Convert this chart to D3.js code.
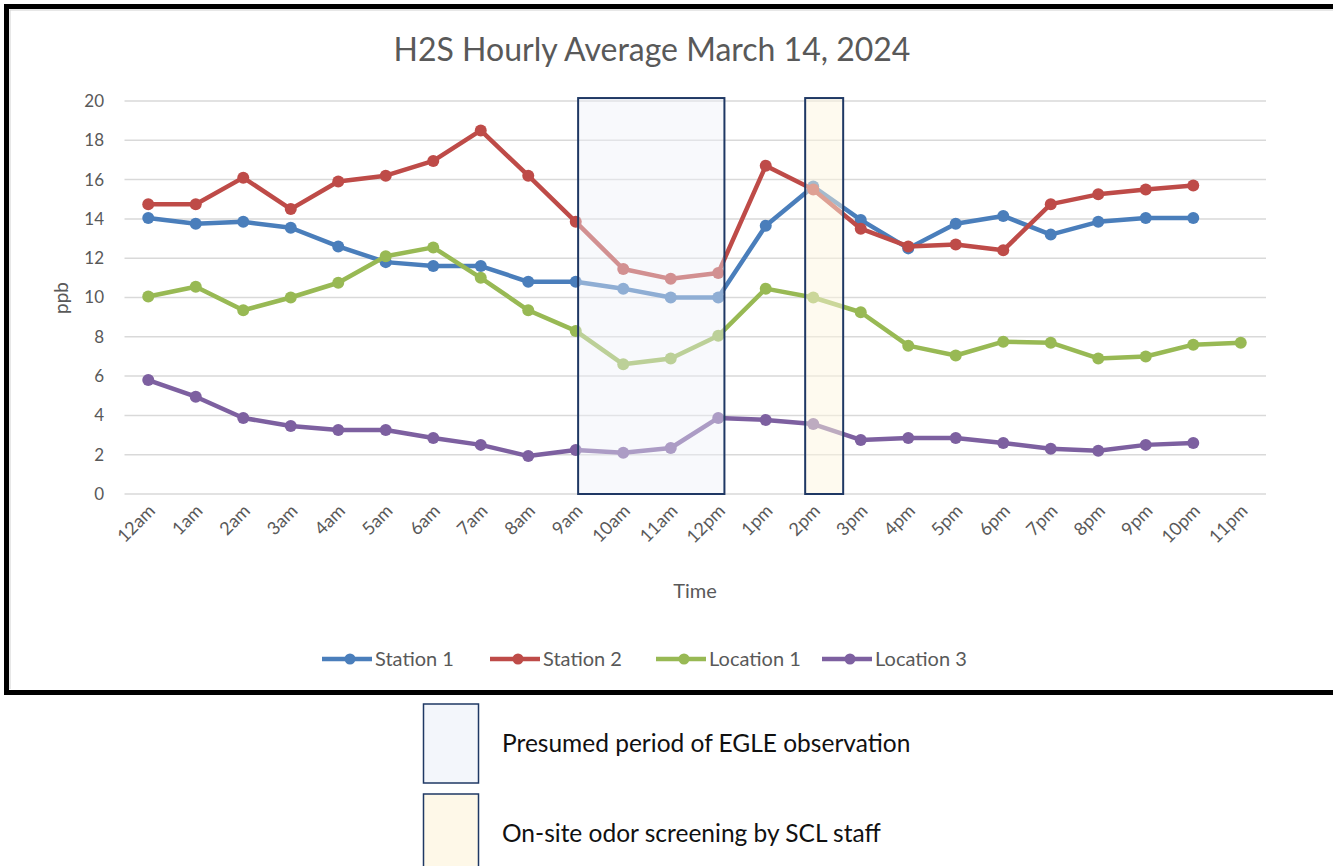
<!DOCTYPE html>
<html><head><meta charset="utf-8">
<script src="https://cdn.jsdelivr.net/npm/d3@7"></script>
<style>body{margin:0;background:#fff;} svg{display:block;}</style>
</head><body>
<svg id="c" width="1333" height="866"></svg>
<script>
const hours = ["12am","1am","2am","3am","4am","5am","6am","7am","8am","9am","10am","11am","12pm","1pm","2pm","3pm","4pm","5pm","6pm","7pm","8pm","9pm","10pm","11pm"];
const station1 = [14.05,13.75,13.85,13.55,12.6,11.8,11.6,11.6,10.8,10.8,10.45,10.0,10.0,13.65,15.65,13.95,12.5,13.75,14.15,13.2,13.85,14.05,14.05,null];
const station2 = [14.75,14.75,16.1,14.5,15.9,16.2,16.95,18.5,16.2,13.85,11.45,10.95,11.25,16.7,15.5,13.5,12.6,12.7,12.4,14.75,15.25,15.5,15.7,null];
const location1 = [10.05,10.55,9.35,10.0,10.75,12.1,12.55,11.0,9.35,8.3,6.6,6.9,8.05,10.45,10.0,9.25,7.55,7.05,7.75,7.7,6.9,7.0,7.6,7.7];
const location3 = [5.8,4.95,3.87,3.46,3.26,3.26,2.85,2.5,1.93,2.24,2.1,2.34,3.87,3.77,3.56,2.75,2.85,2.85,2.6,2.3,2.2,2.5,2.6,null];
const seriesNames = ["Station 1","Station 2","Location 1","Location 3"];
const seriesColors = ["#4a7ebb","#be4b48","#98b954","#7d60a0"];
const yTicks = [0,2,4,6,8,10,12,14,16,18,20];
// highlighted periods, in hour units
const eglePeriod = [9.05, 12.13];
const sclPeriod = [13.83, 14.63];
const legendNotes = ["Presumed period of EGLE observation","On-site odor screening by SCL staff"];

const svg = d3.select("#c");
const font = "Lato, 'Open Sans', sans-serif";
const grey = "#595959";

// frame
svg.append("path").attr("d","M1345,6.5 H6.5 V692.5 H1345")
  .attr("fill","none").attr("stroke","#000").attr("stroke-width",5);
svg.append("path").attr("d","M1345,10 H10 V689").attr("fill","none").attr("stroke","#d0d0d0").attr("stroke-width",1);

const x = d3.scaleBand().domain(hours).range([124.5,1264.5]);
const xc = h => x(h) + x.bandwidth()/2;
const xh = d3.scaleLinear().domain([0,23]).range([xc(hours[0]), xc(hours[23])]);
const y = d3.scaleLinear().domain([0,20]).range([494,101]);

// title
svg.append("text").attr("x",652).attr("y",61).attr("text-anchor","middle")
  .attr("font-family",font).attr("font-size",32).attr("fill",grey)
  .text("H2S Hourly Average March 14, 2024");

// gridlines
svg.append("g").selectAll("line").data(yTicks).join("line")
  .attr("x1",124.5).attr("x2",1266).attr("y1",d=>y(d)).attr("y2",d=>y(d))
  .attr("stroke","#d9d9d9").attr("stroke-width",1.5);

// y axis labels
const yAxis = d3.axisLeft(y).tickValues(yTicks).tickSize(0).tickPadding(0);
const gy = svg.append("g").attr("transform","translate(104,0)").call(yAxis);
gy.select(".domain").remove();
gy.selectAll("text").attr("font-family",font).attr("font-size",17).attr("fill",grey);

svg.append("text").attr("transform","translate(68,298) rotate(-90)").attr("text-anchor","middle")
  .attr("font-family",font).attr("font-size",19).attr("fill",grey).text("ppb");

// x axis labels
const xAxis = d3.axisBottom(x).tickSize(0).tickPadding(0);
const gx = svg.append("g").attr("transform","translate(0,494)").call(xAxis);
gx.select(".domain").remove();
gx.selectAll("text").attr("font-family",font).attr("font-size",18).attr("fill",grey)
  .attr("text-anchor","end").attr("dy",null).attr("y",0)
  .attr("transform","translate(8,18) rotate(-45)");

svg.append("text").attr("x",695).attr("y",598).attr("text-anchor","middle")
  .attr("font-family",font).attr("font-size",20).attr("fill",grey).text("Time");

// series
const allSeries = [station1,station2,location1,location3];
const line = d3.line().defined(d=>d.v!=null).x(d=>xc(d.h)).y(d=>y(d.v));
allSeries.forEach((s,i)=>{
  const pts = s.map((v,j)=>({h:hours[j],v}));
  svg.append("path").datum(pts).attr("d",line).attr("fill","none")
    .attr("stroke",seriesColors[i]).attr("stroke-width",4.5).attr("stroke-linejoin","round");
  svg.append("g").selectAll("circle").data(pts.filter(d=>d.v!=null)).join("circle")
    .attr("cx",d=>xc(d.h)).attr("cy",d=>y(d.v)).attr("r",6).attr("fill",seriesColors[i]);
});

// highlight rectangles (overlay)
svg.append("rect").attr("x",xh(eglePeriod[0])).attr("y",y(20.15))
  .attr("width",xh(eglePeriod[1])-xh(eglePeriod[0])).attr("height",y(0)-y(20.15))
  .attr("fill","#eef1f8").attr("fill-opacity",0.42).attr("stroke","#1f3864").attr("stroke-width",2);
svg.append("rect").attr("x",xh(sclPeriod[0])).attr("y",y(20.15))
  .attr("width",xh(sclPeriod[1])-xh(sclPeriod[0])).attr("height",y(0)-y(20.15))
  .attr("fill","#fdf5e0").attr("fill-opacity",0.5).attr("stroke","#1f3864").attr("stroke-width",2);

// legend
const legX = [322,490,656,822];
seriesNames.forEach((n,i)=>{
  const g = svg.append("g").attr("transform",`translate(${legX[i]},659)`);
  g.append("line").attr("x1",0).attr("x2",50).attr("stroke",seriesColors[i]).attr("stroke-width",4.5);
  g.append("circle").attr("cx",28).attr("r",5.5).attr("fill",seriesColors[i]);
  g.append("text").attr("x",53).attr("y",7).attr("font-family",font).attr("font-size",20).attr("fill",grey).text(n);
});

// bottom notes
const noteFill = ["#f3f6fb","#fef8e8"];
const noteY = [704,794];
legendNotes.forEach((t,i)=>{
  svg.append("rect").attr("x",423.5).attr("y",noteY[i]).attr("width",55).attr("height",i==0?79:80)
    .attr("fill",noteFill[i]).attr("stroke","#1f3864").attr("stroke-width",1.5);
  svg.append("text").attr("x",502).attr("y",noteY[i]+48).attr("font-family",font)
    .attr("font-size",24.5).attr("fill","#111").text(t);
});
</script>
</body></html>
